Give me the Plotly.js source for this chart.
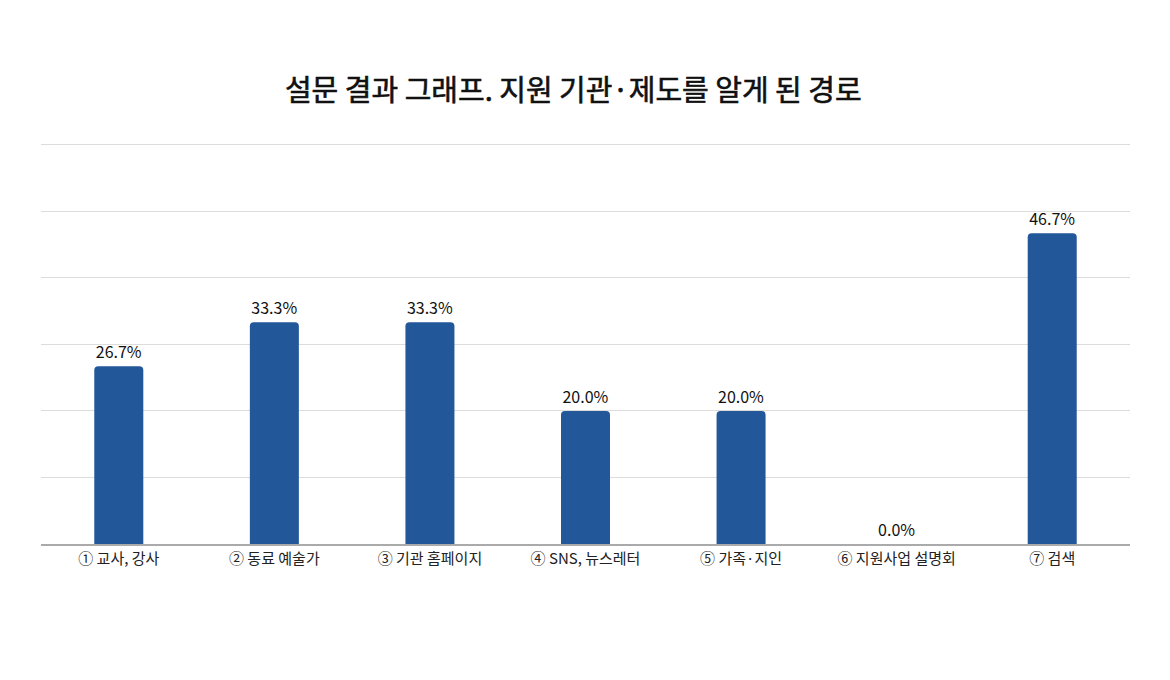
<!DOCTYPE html>
<html><head><meta charset="utf-8">
<script src="https://cdn.plot.ly/plotly-3.0.1.min.js"></script>
<style>html,body{margin:0;padding:0;background:#fff}
.gtitle{stroke:#111;stroke-width:0.6px;}</style>
</head><body><div id="chart" style="width:1170px;height:680px"></div>
<script>
const categories = ["① 교사, 강사","② 동료 예술가","③ 기관 홈페이지","④ SNS, 뉴스레터","⑤ 가족·지인","⑥ 지원사업 설명회","⑦ 검색"];
const values = [26.7, 33.3, 33.3, 20.0, 20.0, 0.0, 46.7];
const valueLabels = values.map(v => v.toFixed(1) + "%");
const titleText = "설문 결과 그래프. 지원 기관·제도를 알게 된 경로";
const font = "'Noto Sans CJK KR', 'Noto Sans', sans-serif";

Plotly.newPlot("chart", [{
  type: "bar",
  x: categories,
  y: values,
  text: valueLabels,
  textposition: "outside",
  cliponaxis: false,
  textfont: {family: font, size: 16, color: "#111"},
  marker: {color: "#22579a", line: {width: 0}},
  hoverinfo: "none"
}], {
  width: 1170, height: 680,
  margin: {l: 41, r: 40, t: 138, b: 136},
  paper_bgcolor: "#fff", plot_bgcolor: "#fff",
  bargap: 0.685,
  barcornerradius: 4,
  title: {text: titleText, x: 0.49, xanchor: "center", y: 1 - 91/680, yanchor: "middle", yref: "container",
          font: {family: font, size: 29, color: "#111", weight: 400}},
  xaxis: {type: "category", showgrid: false, showline: true, linecolor: "#aaa", linewidth: 1.5,
          ticks: "", tickfont: {family: font, size: 15, color: "#222"}, automargin: false},
  yaxis: {range: [0, 61], tickvals: [10, 20, 30, 40, 50, 60], showticklabels: false, showgrid: true, gridcolor: "#dcdcdc", gridwidth: 1,
          zeroline: false, showline: false, ticks: ""},
  showlegend: false
}, {displayModeBar: false, staticPlot: true});
</script></body></html>
